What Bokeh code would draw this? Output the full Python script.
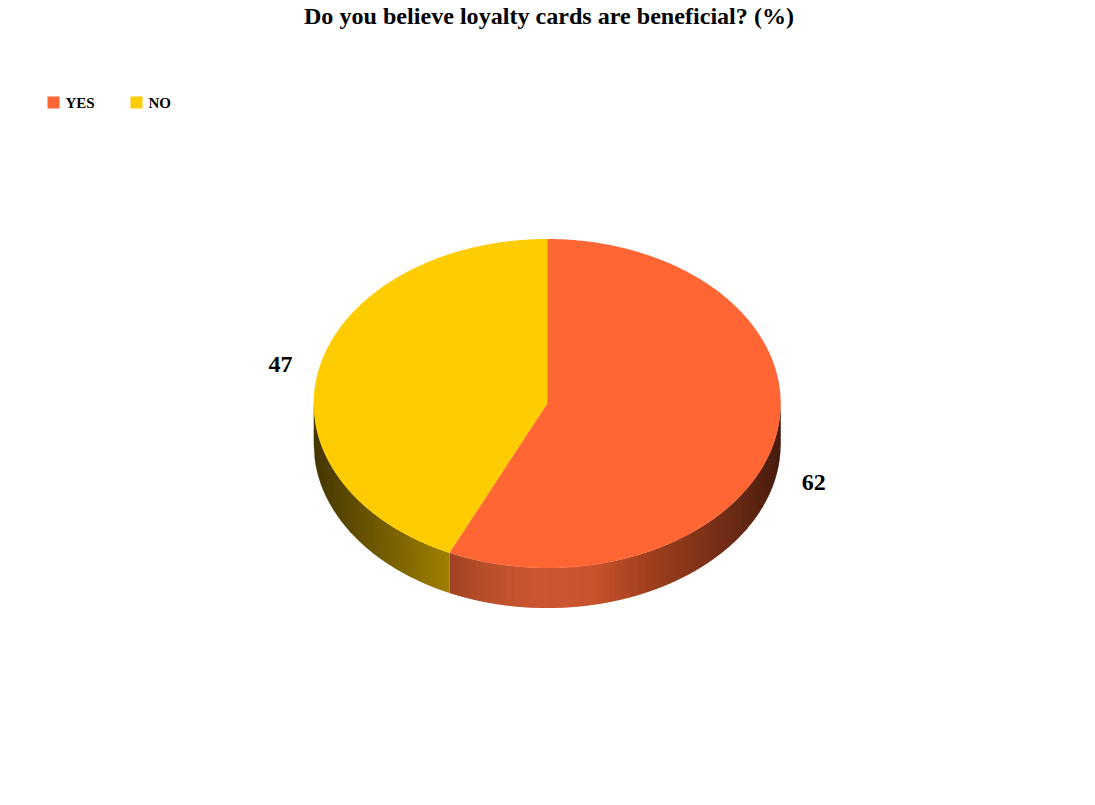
import math
from bokeh.plotting import figure
from bokeh.models import Range1d
from bokeh.core.properties import value
from bokeh.embed import file_html
from bokeh.resources import INLINE

title = "Do you believe loyalty cards are beneficial? (%)"
categories = ["YES", "NO"]
values = [62, 47]
colors = ["#FF6633", "#FFCC00"]

W, H, M = 1095, 805, 8
CX, CY, RX, RY, DEPTH = 546.7, 403.0, 233.5, 164.5, 40.0
FONT = value("Liberation Serif")

p = figure(width=W - 2 * M, height=H - 2 * M, output_backend="svg", toolbar_location=None,
           x_range=Range1d(0, W - 2 * M), y_range=Range1d(H - 2 * M, 0),
           min_border=0, outline_line_color=None, background_fill_color="white",
           border_fill_color="white")
p.axis.visible = False
p.grid.visible = False


def rgb(c):
    return tuple(int(c[i:i + 2], 16) for i in (1, 3, 5))


STOPS = [(0.0, 0.27), (0.29, 0.63), (0.36, 0.71), (0.48, 0.79), (0.6, 0.78), (0.72, 0.63), (0.88, 0.45), (1.0, 0.28)]


def shade(t):
    for (a, va), (b, vb) in zip(STOPS, STOPS[1:]):
        if t <= b:
            return va + (vb - va) * (t - a) / (b - a)
    return STOPS[-1][1]


def yt(x):
    return CY + RY * math.sqrt(max(0.0, 1 - ((x - CX) / RX) ** 2))


total = sum(values)
fractions = [v / total for v in values]
bounds = [0.0]
for f in fractions:
    bounds.append(bounds[-1] + f * 2 * math.pi)

# side wall: vertical strips over the visible (lower) half of the rim
xs, ys, fills = [], [], []
for i, col in enumerate(colors):
    a0, a1 = max(bounds[i], math.pi / 2), min(bounds[i + 1], 3 * math.pi / 2)
    if a1 <= a0:
        continue
    x0 = CX + RX * math.sin(a1)
    x1 = CX + RX * math.sin(a0)
    n = int(x1 - x0) + 1
    base = rgb(col)
    for k in range(n):
        xa = x0 + (x1 - x0) * k / n
        xb = min(x0 + (x1 - x0) * (k + 1) / n + 0.6, x1)
        xs.append([xa, xb, xb, xa])
        ys.append([yt(xa), yt(xb), yt(xb) + DEPTH, yt(xa) + DEPTH])
        s = shade(((xa + xb) / 2 - (CX - RX)) / (2 * RX))
        fills.append("#%02x%02x%02x" % tuple(int(c * s) for c in base))
p.patches(xs, ys, fill_color=fills, line_color=None)

# top face
for i, col in enumerate(colors):
    n = max(2, int((bounds[i + 1] - bounds[i]) * 120))
    angs = [bounds[i] + (bounds[i + 1] - bounds[i]) * k / n for k in range(n + 1)]
    px = [CX] + [CX + RX * math.sin(a) for a in angs]
    py = [CY] + [CY - RY * math.cos(a) for a in angs]
    p.patch(px, py, fill_color=col, line_color=None)

# value labels
for i, v in enumerate(values):
    mid = (bounds[i] + bounds[i + 1]) / 2
    lx = CX + 273 * math.sin(mid)
    ly = CY - 181 * math.cos(mid) + (DEPTH if math.cos(mid) < 0 else 0)
    p.text([lx], [ly], text=[str(v)], text_font=FONT, text_font_style="bold",
           text_font_size="24px", text_align="center", text_baseline="middle", text_color="black")

# title
p.text([548.5], [15.5], text=[title], text_font=FONT, text_font_style="bold",
       text_font_size="24.1px", text_align="center", text_baseline="middle", text_color="black")

# legend
LEG_X = [47, 130]
for lx, cat, col in zip(LEG_X, categories, colors):
    p.rect([lx + 6], [102], width=12, height=12, fill_color=col, line_color=None)
    p.text([lx + 18], [102.7], text=[cat], text_font=FONT, text_font_style="bold",
           text_font_size="15px", text_align="left", text_baseline="middle", text_color="black")

open("out.html", "w").write(file_html(p, INLINE))
